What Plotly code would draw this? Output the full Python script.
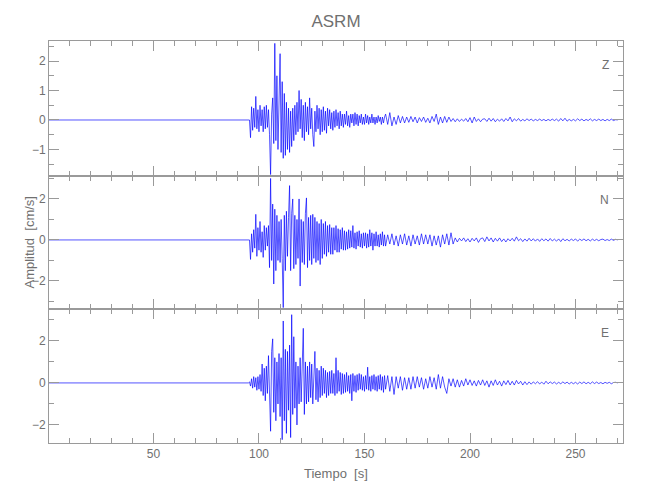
import numpy as np
import plotly.graph_objects as go
from plotly.subplots import make_subplots

# ---------------- data ----------------
title_text = "ASRM"
components = ["Z", "N", "E"]

pre_event_time = [0.0]          # quiet trace before onset (s)
strong_start, strong_dt = 95.0, 0.5
coda_start, coda_dt = 160.0, 1.0

z_strong = [
    0, 0, -0.6, 0.45, -0.35, 0.4, -0.25, 0.8, -0.3, 0.35,
    -0.4, 0.5, -0.2, 0.35, -0.4, 0.45, -0.3, 0.5, -0.25, 0.35,
    -0.5, -1.85, 0.2, 0.75, -0.8, 2.6, -0.7, 1.5, -1.0, 1.2,
    2.25, -1.1, 1.3, -1.3, 0.9, -1.2, 0.6, -1.0, 0.4, -1.1,
    0.3, -0.9, 0.4, -0.7, 0.5, -0.5, 0.6, -0.4, 1.0, -0.3,
    0.7, -0.6, 0.5, -0.7, 0.6, -0.4, 0.45, -0.5, 0.75, -0.3,
    0.4, -0.5, -0.9, 0.3, -0.4, 0.5, -0.3, 0.4, -0.5, 0.35,
    -0.4, 0.45, -0.35, 0.3, -0.45, 0.4, -0.2, 0.35, -0.3, 0.25,
    -0.35, 0.3, -0.25, 0.35, -0.2, 0.25, -0.3, 0.3, -0.2, 0.2,
    -0.25, 0.2, -0.15, 0.3, -0.2, 0.15, -0.25, 0.2, -0.1, 0.2,
    -0.2, 0.25, -0.15, 0.2, -0.2, 0.15, -0.1, 0.2, -0.15, 0.1,
    -0.15, 0.2, -0.1, 0.15, -0.15, 0.1, -0.1, 0.2, -0.1, 0.1,
    -0.15, 0.1, -0.1, 0.15, -0.05, 0.1, -0.15, 0.1, -0.1, 0.1,
]
z_coda = [
    0.2, -0.15, 0.25, -0.2, 0.1, -0.15, 0.15, -0.1, 0.12, -0.1,
    0.1, -0.08, 0.12, -0.06, 0.1, -0.1, 0.08, -0.05, 0.1, -0.08,
    0.06, -0.1, 0.12, -0.05, 0.2, -0.15, 0.1, -0.1, 0.12, -0.08,
    0.1, -0.05, 0.05, -0.06, 0.04, -0.05, 0.03, -0.04, 0.05, -0.06,
    0.08, -0.1, 0.1, -0.05, 0.04, -0.06, 0.03, 0.04, -0.05, 0.06,
    -0.04, 0.05, -0.06, 0.03, -0.04, 0.04, -0.05, 0.05, -0.03, 0.1,
    -0.06, 0.04, -0.03, 0.05, -0.04, 0.02, -0.03, 0.04, -0.02, 0.03,
    -0.03, 0.02, -0.02, 0.03, -0.02, 0.02, -0.03, 0.02, -0.02, 0.03,
    -0.02, 0.03, -0.04, 0.05, -0.03, 0.06, -0.04, 0.02, -0.03, 0.02,
    -0.03, 0.04, -0.02, 0.03, -0.03, 0.02, -0.02, 0.04, -0.03, 0.02,
    -0.02, 0.03, -0.02, 0.02, -0.03, 0.02, -0.02, 0.03, -0.02, 0.01,
    0.0,
]

n_strong = [
    0, 0, -0.95, 0.3, -0.6, 0.5, -0.4, 1.25, -0.8, 0.6,
    -0.5, 0.9, -0.6, 0.4, -0.85, 0.7, -0.5, 0.6, -0.3, 0.7,
    -1.35, 3.0, -1.0, 1.75, -2.15, 1.5, -1.5, 1.2, -1.0, 0.9,
    -1.1, 1.0, -0.9, -3.3, 1.2, -1.5, 1.4, -0.8, 1.1, 2.65,
    -1.5, 1.3, 2.0, -1.4, 1.2, -1.2, 1.0, -0.9, 2.0, -2.25,
    1.0, -1.1, 0.9, -1.2, 1.3, 2.05, -1.35, 1.1, -1.0, 1.2,
    -1.2, 1.25, -0.9, 1.1, -1.1, 0.9, -1.0, 0.8, -1.2, 1.0,
    -0.9, 0.8, -0.7, 0.9, -0.8, 0.7, -0.6, 0.75, -0.7, 0.6,
    -0.7, 0.6, -0.5, 0.7, -0.6, 0.55, -0.6, 0.5, -0.45, 0.6,
    -0.5, 0.45, -0.5, 0.4, -0.45, 0.5, -0.4, 0.45, -0.35, 0.7,
    -0.4, 0.35, -0.45, 0.4, -0.3, 0.45, -0.35, 0.3, -0.4, 0.35,
    -0.3, 0.35, -0.4, 0.3, -0.35, 0.5, -0.3, 0.35, -0.5, 0.3,
    -0.3, 0.4, -0.3, 0.25, -0.35, 0.3, -0.25, 0.4, -0.3, 0.25,
]
n_coda = [
    -0.3, 0.25, -0.2, 0.3, -0.25, 0.2, -0.3, 0.25, -0.2, 0.3,
    -0.25, 0.2, -0.3, 0.25, -0.2, 0.2, -0.25, 0.3, -0.2, 0.25,
    -0.2, 0.25, -0.3, 0.2, -0.25, 0.2, -0.35, 0.25, -0.2, 0.3,
    -0.25, 0.35, -0.2, 0.1, -0.1, 0.08, -0.05, 0.1, -0.08, 0.06,
    -0.1, 0.08, -0.05, 0.1, -0.12, 0.06, 0.1, -0.08, 0.15, -0.05,
    0.1, -0.1, 0.08, -0.06, 0.1, -0.08, 0.05, -0.1, 0.06, -0.05,
    0.08, -0.06, 0.15, -0.04, 0.06, -0.08, 0.05, -0.06, 0.08, -0.05,
    0.06, -0.06, 0.05, -0.07, 0.06, -0.04, 0.05, -0.06, 0.07, -0.05,
    0.04, -0.06, 0.05, -0.08, 0.06, -0.04, 0.03, -0.05, 0.04, -0.03,
    0.05, -0.06, 0.04, -0.03, 0.05, -0.04, 0.03, -0.05, 0.04, -0.03,
    0.03, -0.04, 0.02, 0.04, -0.03, 0.02, -0.03, 0.04, -0.02, 0.03,
    0.0,
]

e_strong = [
    0, 0.05, -0.15, 0.2, -0.25, 0.3, -0.2, 0.25, -0.35, 0.3,
    -0.3, 0.4, -0.4, 0.9, -0.6, 0.7, -0.85, 0.8, -0.5, 1.3,
    -1.2, -2.3, 1.5, 2.1, -1.4, 1.2, -1.8, 1.0, -1.0, 1.4,
    -1.6, 1.2, -2.7, 2.95, -1.8, 1.6, -2.4, 1.5, -1.3, 1.8,
    -2.6, 3.25, -1.5, 2.2, -1.2, 1.0, -2.0, 0.8, -1.0, 1.2,
    -0.9, 0.8, 2.6, -1.5, 1.0, -1.0, 0.8, -0.9, 1.0, -0.7,
    0.9, -1.0, 0.8, 1.5, -0.8, 0.7, -0.9, 0.6, -0.7, 0.8,
    -0.6, 0.7, -0.5, 0.6, -0.7, 0.5, -0.6, 0.55, -0.5, 0.6,
    -0.5, 0.45, -0.6, 1.2, -0.5, 0.6, -0.4, 0.5, -0.55, 0.45,
    -0.5, 0.4, -0.45, 0.5, -0.4, 0.35, -0.5, 0.4, -0.85, 0.45,
    -0.4, 0.35, -0.45, 0.4, -0.35, 0.45, -0.3, 0.4, -0.35, 0.3,
    -0.4, 0.35, -0.3, 0.75, -0.35, 0.3, -0.4, 0.35, -0.3, 0.4,
    -0.35, 0.3, -0.4, 0.35, -0.3, 0.4, -0.35, 0.3, -0.45, 0.35,
]
e_coda = [
    -0.3, 0.35, -0.4, 0.3, -0.55, 0.3, -0.25, 0.3, -0.35, 0.25,
    -0.3, 0.25, -0.3, 0.3, -0.25, 0.3, -0.2, 0.25, -0.3, 0.2,
    -0.25, 0.3, -0.2, 0.25, -0.3, 0.4, -0.25, 0.3, -0.2, -0.5,
    0.2, -0.15, 0.2, -0.2, 0.15, -0.2, 0.12, -0.15, 0.2, -0.1,
    0.15, -0.12, 0.1, -0.15, 0.12, -0.1, 0.15, -0.12, 0.1, -0.2,
    0.1, -0.12, 0.15, -0.1, 0.08, -0.15, 0.1, -0.08, 0.12, -0.1,
    0.08, -0.1, 0.12, -0.05, 0.08, -0.1, 0.06, -0.08, 0.05, -0.06,
    0.05, -0.04, 0.06, -0.05, 0.04, -0.06, 0.08, -0.04, 0.05, -0.03,
    0.04, -0.05, 0.03, -0.04, 0.05, -0.03, 0.04, -0.05, 0.03, -0.04,
    0.03, -0.05, 0.04, -0.03, 0.05, -0.04, 0.03, -0.04, 0.05, -0.03,
    0.04, -0.03, 0.02, -0.04, 0.03, -0.02, 0.03, -0.04, 0.02, 0.03,
    0.0,
]

x_range = [0.5, 272.5]
y_ranges = [[-1.9, 2.68], [-3.37, 3.12], [-2.86, 3.52]]
y_dticks = [1, 2, 2]
y_minor = [0.5, 1, 1]
x_label = "Tiempo  [s]"
y_label = "Amplitud  [cm/s]"

# ---------------- build figure ----------------
series = {"Z": (z_strong, z_coda), "N": (n_strong, n_coda), "E": (e_strong, e_coda)}

def build_trace(strong, coda):
    t = np.concatenate([pre_event_time,
                        strong_start + strong_dt * np.arange(len(strong)),
                        coda_start + coda_dt * np.arange(len(coda))])
    v = np.concatenate([[0.0], strong, coda])
    return t, v

GRAY = "#9a9a9a"
TXT = "#707070"
FONT = "Liberation Sans Narrow, Liberation Sans, sans-serif"

fig = make_subplots(rows=3, cols=1, shared_xaxes=True, vertical_spacing=0)
for i, comp in enumerate(components):
    t, v = build_trace(*series[comp])
    fig.add_trace(go.Scatter(x=t, y=v, mode="lines",
                             line=dict(color="rgba(0,0,255,0.85)", width=0.8),
                             showlegend=False, hoverinfo="skip"),
                  row=i + 1, col=1)

domains = [[0.6642, 1.0], [0.3333, 0.6642], [0.0, 0.3333]]
for i in range(3):
    fig.update_yaxes(row=i + 1, col=1, range=y_ranges[i], domain=domains[i],
                     dtick=y_dticks[i], tick0=0, ticks="inside", ticklen=10,
                     tickcolor=GRAY, tickwidth=1, showline=True, linecolor=GRAY,
                     linewidth=1, mirror="ticks", showgrid=False, zeroline=False,
                     tickfont=dict(family=FONT, size=12, color=TXT),
                     minor=dict(dtick=y_minor[i], tick0=0, ticks="inside",
                                ticklen=5, tickcolor=GRAY, showgrid=False))
    fig.update_xaxes(row=i + 1, col=1, range=x_range, dtick=50, tick0=0,
                     ticks="inside", ticklen=10, tickcolor=GRAY, tickwidth=1,
                     showline=True, linecolor=GRAY, linewidth=1, mirror="ticks",
                     showgrid=False, zeroline=False,
                     showticklabels=(i == 2),
                     tickfont=dict(family=FONT, size=12, color=TXT),
                     minor=dict(dtick=10, tick0=0, ticks="inside", ticklen=5,
                                tickcolor=GRAY, showgrid=False))

# axis titles as annotations for exact placement
fig.add_annotation(text=x_label, xref="paper", yref="paper", x=0.5, y=0,
                   yshift=-30, xanchor="center", yanchor="middle", showarrow=False,
                   font=dict(family=FONT, size=13, color=TXT))
fig.add_annotation(text=y_label, xref="paper", yref="y2 domain", x=0, y=0.5,
                   xshift=-19, xanchor="center", yanchor="middle", showarrow=False,
                   textangle=-90, font=dict(family=FONT, size=13, color=TXT))

# component labels in top-right corner of each panel
for i, comp in enumerate(components):
    yref = "y domain" if i == 0 else f"y{i + 1} domain"
    xref = "x domain" if i == 0 else f"x{i + 1} domain"
    fig.add_annotation(text=comp, xref=xref, yref=yref, x=0.979, y=0.89,
                       xanchor="right", yanchor="top", showarrow=False,
                       font=dict(family=FONT, size=12, color=TXT))

fig.update_layout(
    width=650, height=500,
    margin=dict(l=41, r=35, t=33, b=65),
    paper_bgcolor="white", plot_bgcolor="white",
    title=dict(text=title_text, x=0.5, xref="paper", y=0.974, yanchor="middle",
               font=dict(family=FONT, size=17, color=TXT)),
)

fig.write_html("out.html")
